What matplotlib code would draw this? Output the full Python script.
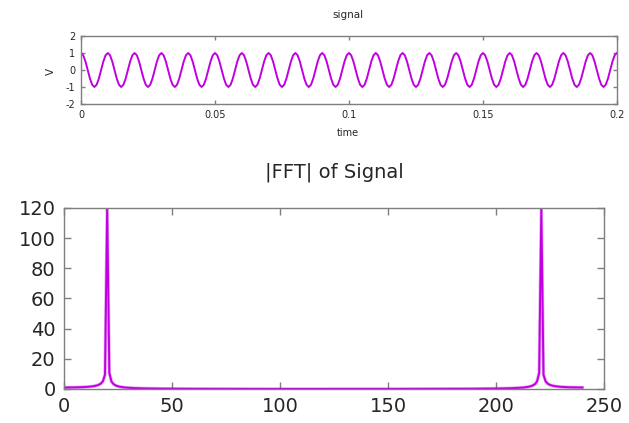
import numpy as np
import matplotlib
matplotlib.use("Agg")
import matplotlib.pyplot as plt

# Sampled test tone: 100 Hz cosine at 1200 Hz sample rate, 0..0.2 s inclusive
tone_freq_hz = 100.0
sample_rate_hz = 1200.0
n_samples = 241

t = np.arange(n_samples) / sample_rate_hz
signal = np.cos(2 * np.pi * tone_freq_hz * t)
spectrum = np.abs(np.fft.fft(signal))
bins = np.arange(n_samples)

top_xticks = [0, 0.05, 0.1, 0.15, 0.2]
top_xticklabels = ["0", "0.05", "0.1", "0.15", "0.2"]
top_yticks = [-2, -1, 0, 1, 2]
bot_xticks = [0, 50, 100, 150, 200, 250]
bot_yticks = [0, 20, 40, 60, 80, 100, 120]

line_color = "#c000e0"
frame_color = "#7f7f7f"
text_color = "#262626"

plt.rcParams["font.family"] = ["DejaVu Sans"]
plt.rcParams["axes.unicode_minus"] = False

fig = plt.figure(figsize=(6.29, 4.23), dpi=100)

def style(ax, size, tick_len):
    for s in ax.spines.values():
        s.set_color(frame_color)
        s.set_linewidth(1.0)
    ax.tick_params(direction="in", top=True, right=True, length=tick_len,
                   width=1.0, color=frame_color, labelsize=size,
                   labelcolor=text_color, pad=4)

# Time-domain plot
ax1 = fig.add_axes([0.1288, 0.7541, 0.852, 0.1608])
ax1.plot(t, signal, color=line_color, lw=1.4)
ax1.set_xlim(0, 0.2)
ax1.set_ylim(-2, 2)
ax1.set_xticks(top_xticks)
ax1.set_xticklabels(top_xticklabels)
ax1.set_yticks(top_yticks)
style(ax1, 7, 3)
fig.text(348 / 629, 1 - 15 / 423, "signal", ha="center", va="center",
         fontsize=7.5, color=text_color)
fig.text(348 / 629, 1 - 133 / 423, "time", ha="center", va="center",
         fontsize=7, color=text_color)
fig.text(51 / 629, 1 - 71 / 423, "V", ha="center", va="center",
         rotation=90, fontsize=7.5, color=text_color)

# Magnitude spectrum
ax2 = fig.add_axes([0.1017, 0.0804, 0.8585, 0.4279])
ax2.plot(bins, spectrum, color=line_color, lw=2.4, alpha=0.35,
         solid_joinstyle="round")
ax2.plot(bins, spectrum, color=line_color, lw=1.4)
ax2.set_xlim(0, 250)
ax2.set_ylim(0, 120)
ax2.set_xticks(bot_xticks)
ax2.set_yticks(bot_yticks)
style(ax2, 14, 5)
ax2.tick_params(pad=6)
fig.text(334.5 / 629, 1 - 172 / 423, "|FFT| of Signal", ha="center",
         va="center", fontsize=14, color=text_color)

fig.savefig("out.png", dpi=100)
